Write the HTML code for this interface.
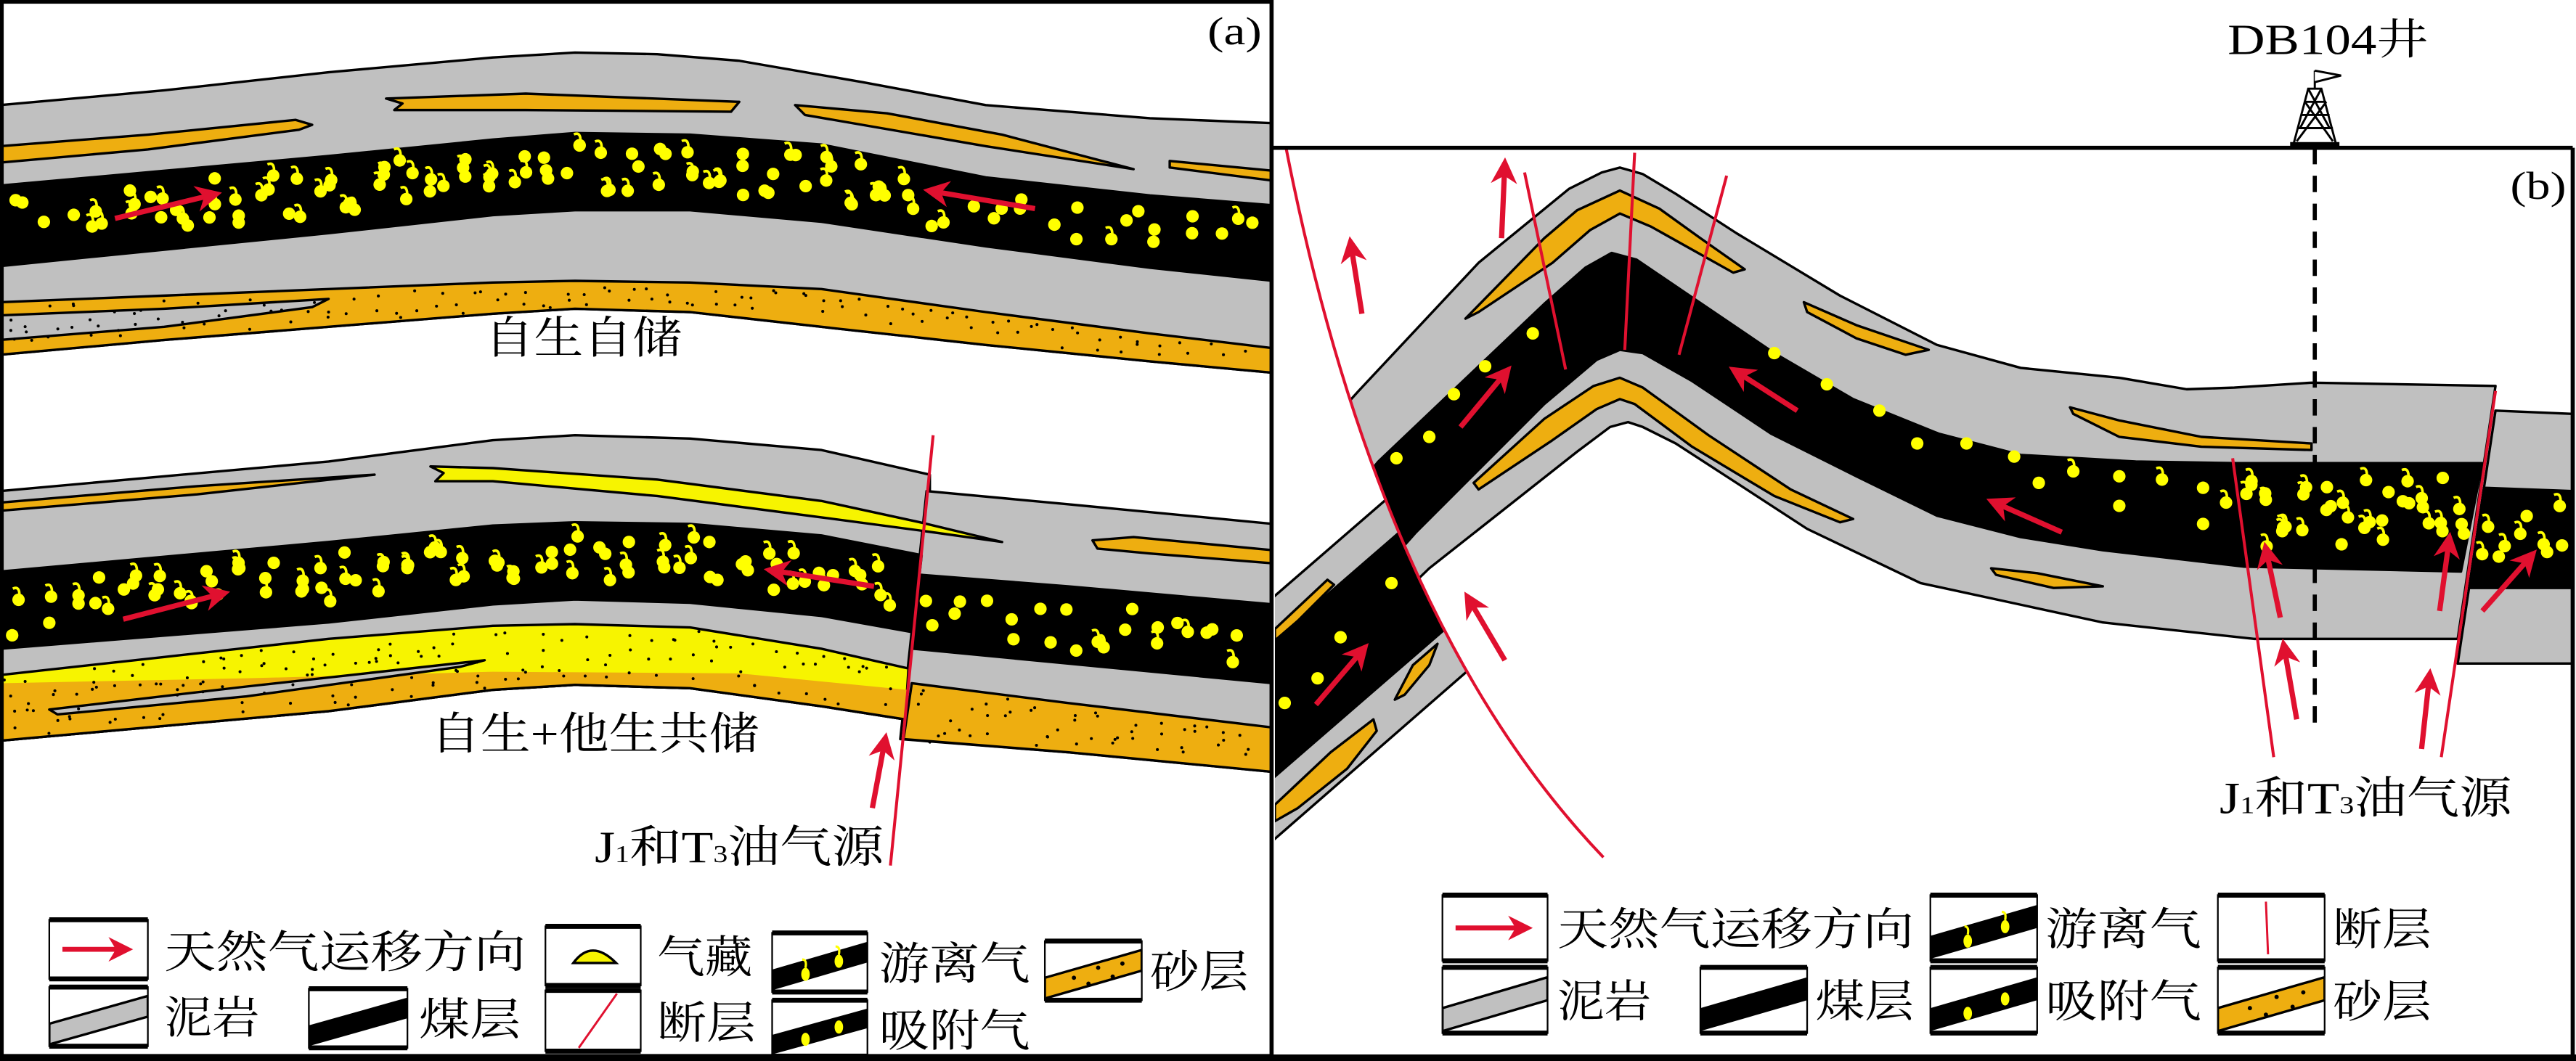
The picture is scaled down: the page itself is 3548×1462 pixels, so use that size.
<!DOCTYPE html>
<html><head><meta charset="utf-8">
<style>
html,body{margin:0;padding:0;background:#fff;}
svg{display:block;}
text{font-family:"Liberation Serif","Noto Serif CJK SC",serif;fill:#000;}
</style></head>
<body>
<svg id="s" xmlns="http://www.w3.org/2000/svg" width="3548" height="1462" viewBox="0 0 1568 646" preserveAspectRatio="none">
<defs>
<marker id="ah" viewBox="0 0 10 10" refX="8" refY="5" markerWidth="5" markerHeight="5" orient="auto" markerUnits="strokeWidth">
<path d="M0,0 L10,5 L0,10 L3,5 z" fill="#e0102f"/></marker>
<clipPath id="ca"><rect x="0" y="0" width="773" height="646"/></clipPath>
<clipPath id="cb"><rect x="776" y="90" width="790" height="553"/></clipPath>
<clipPath id="hang"><path d="M783,91 Q840,380 976,522 L1568,646 L1568,90 Z"/></clipPath>
<clipPath id="foot"><path d="M783,91 Q840,380 976,522 L776,646 L776,91 Z"/></clipPath>
</defs>
<rect width="1568" height="646" fill="#fff"/>

<g clip-path="url(#ca)" stroke="#000" stroke-width="1.5" stroke-linejoin="round">
<polygon fill="#c0c0c0" points="0,64 100,55 200,44 300,35 350,32 400,33 450,37 525,50 600,64 700,72 775,75 775,227 700,220 600,210 500,199 420,190 350,188 300,191 200,199 100,207 0,216"/>
<polygon fill="#eeae10" points="0,184 100,180 200,176 300,172 350,171 420,172 500,176 600,190 700,203 775,212 775,227 700,220 600,210 500,199 420,190 350,188 300,191 200,199 100,207 0,216"/>
<polygon fill="#c0c0c0" points="0,192 100,188 200,182 190,187 100,199 0,207"/>
<polygon fill="#000" points="0,113 100,104 200,95 300,85 350,81 420,82 500,88 600,108 700,119 775,125 775,171 700,163 600,150 500,135 420,128 350,128 300,131 200,142 100,152 0,162"/>
<polygon fill="#eeae10" points="0,89 90,82 180,73 190,76 182,79 90,91 0,99"/>
<polygon fill="#eeae10" points="235,60 320,57 450,62 445,68 320,67 240,67 245,63"/>
<polygon fill="#eeae10" points="484,64 540,69 610,82 690,103 600,89 490,70"/>
<polygon fill="#eeae10" points="712,98 775,104 775,110 712,102"/>
<polygon fill="#c0c0c0" points="0,299 100,290 200,281 300,268 350,265 420,267 500,274 566,289 566,452 551,438 500,430 420,419 350,417 300,420 200,433 100,442 0,451"/>
<polygon fill="#c0c0c0" points="564,299 650,307 775,319 775,470 650,458 548,450"/>
<polygon fill="#f7f400" points="0,411 100,400 200,389 300,381 350,380 420,382 500,395 553,407 551,438 500,430 420,419 350,417 300,420 200,433 100,442 0,451"/>
<polygon fill="#eeae10" stroke="none" points="0,416 150,413 300,409 450,410 552,420 551,438 500,430 420,419 350,417 300,420 200,433 100,442 0,451"/>
<polyline fill="none" points="0,451 100,442 200,433 300,420 350,417 420,419 500,430 551,438"/>
<polygon fill="#eeae10" points="555,416 650,428 775,443 775,470 650,458 550,450"/>
<polygon fill="#c0c0c0" points="30,432 150,418 295,402 280,406 150,424 35,435"/>
<polygon fill="#000" points="0,348 100,339 200,330 300,320 350,318 420,319 500,326 561,338 556,385 500,375 420,367 350,365 300,368 200,379 100,387 0,395"/>
<polygon fill="#000" points="561,350 650,357 775,368 775,416 650,404 556,395"/>
<polygon fill="#eeae10" points="0,306 120,296 228,289 120,301 0,311"/>
<polygon fill="#f7f400" points="262,284 300,285 400,292 500,305 560,318 610,330 560,323 500,315 400,302 300,293 265,293 270,288"/>
<polygon fill="#eeae10" points="665,329 690,327 775,335 775,343 700,337 668,334"/>
</g>
<g id="dotsA"></g>
<line x1="568" y1="265" x2="542" y2="527" stroke="#e0102f" stroke-width="1.8"/>

<g stroke="#e0102f" stroke-width="3.2" marker-end="url(#ah)">
<line x1="70" y1="133" x2="132" y2="118"/>
<line x1="630" y1="127" x2="565" y2="116"/>
<line x1="75" y1="377" x2="137" y2="361"/>
<line x1="532" y1="357" x2="468" y2="347"/>
<line x1="531" y1="492" x2="539" y2="449"/>
</g>

<text x="295" y="215" font-size="27" textLength="120" lengthAdjust="spacingAndGlyphs">自生自储</text>
<text x="262" y="456" font-size="27" textLength="200" lengthAdjust="spacingAndGlyphs">自生+他生共储</text>
<text x="362" y="525" font-size="27" textLength="176" lengthAdjust="spacingAndGlyphs">J<tspan font-size="15">1</tspan>和T<tspan font-size="15">3</tspan>油气源</text>
<text x="735" y="27" font-size="24" textLength="33" lengthAdjust="spacingAndGlyphs">(a)</text>

<g clip-path="url(#cb)" stroke="#000" stroke-width="1.5" stroke-linejoin="round">
<g clip-path="url(#hang)">
<polygon fill="#c0c0c0" points="780,290 827,238 900,160 955,115 975,105 986,102 1000,106 1020,118 1057,142 1120,180 1179,210 1230,224 1290,230 1331,237 1360,236 1407,233 1519,235 1496,389 1420,389 1372,389 1280,379 1169,355 1100,322 1057,294 1020,270 1000,260 991,257 980,260 960,275 870,346 840,375"/>
<polygon fill="#000" points="790,340 839,281 940,185 965,163 981,154 996,158 1027,179 1080,215 1128,243 1180,264 1230,277 1300,281 1361,282 1511,282 1498,348 1366,345 1280,335 1230,327 1179,314 1130,290 1078,264 1030,232 1000,215 986,213 972,219 940,246 862,324 830,360"/>
<polygon fill="#eeae10" points="892,194 940,145 960,128 986,116 1010,127 1035,145 1062,164 1055,166 1030,152 1005,138 986,130 968,140 945,160 900,190"/>
<polygon fill="#eeae10" points="1098,184 1130,198 1174,213 1160,216 1130,206 1100,190"/>
<polygon fill="#eeae10" points="1260,248 1290,256 1340,266 1407,270 1407,274 1340,272 1290,266 1262,252"/>
<polygon fill="#eeae10" points="897,294 940,255 970,235 986,230 1000,236 1040,265 1090,298 1128,316 1120,318 1080,302 1030,272 995,246 986,243 972,249 945,268 900,298"/>
<polygon fill="#eeae10" points="1212,346 1240,349 1280,357 1250,358 1215,350"/>
</g>
<polygon fill="#c0c0c0" points="1519,250 1566,252 1566,404 1496,404"/>
<polygon fill="#000" points="1512,297 1566,299 1566,358 1503,358"/>
<g clip-path="url(#foot)">
<polygon fill="#c0c0c0" points="770,368 950,212 950,359 770,516"/>
<polygon fill="#000" points="770,395 950,239 950,322 770,478"/>
<polygon fill="#eeae10" points="808,353 812,356 790,378 776,390 776,383"/>
<polygon fill="#eeae10" points="875,392 870,405 855,423 849,426 860,405"/>
<polygon fill="#eeae10" points="836,438 838,445 820,468 790,492 776,500 776,490 810,458"/>
</g>
</g>
<g id="dotsB"></g>

<g stroke="#e0102f" stroke-width="1.8" fill="none">
<path d="M783,91 Q840,380 976,522"/>
<line x1="928" y1="105" x2="953" y2="225"/>
<line x1="995" y1="93" x2="989" y2="213"/>
<line x1="1051" y1="107" x2="1022" y2="216"/>
<line x1="1359" y1="279" x2="1384" y2="461"/>
<line x1="1519" y1="238" x2="1486" y2="461"/>
</g>
<line x1="1409" y1="90" x2="1409" y2="443" stroke="#000" stroke-width="2.5" stroke-dasharray="10,7"/>
<g stroke="#000" stroke-width="1.3" fill="none">
<path d="M1396,88 L1405,54 L1413,54 L1422,88"/>
<path d="M1403,62 L1416,62 M1401,70 L1418,70 M1399,78 L1420,78 M1405,54 L1418,78 M1413,54 L1400,78 M1403,62 L1420,86 M1416,62 L1398,86"/>
<path d="M1409,54 L1409,43"/>
<path d="M1409,43 L1425,46 L1409,50" fill="#fff"/>
<line x1="1394" y1="88" x2="1424" y2="88" stroke-width="3"/>
</g>

<g stroke="#e0102f" stroke-width="3.2" marker-end="url(#ah)">
<line x1="914" y1="145" x2="916" y2="99"/>
<line x1="829" y1="191" x2="822" y2="147"/>
<line x1="889" y1="260" x2="918" y2="225"/>
<line x1="1094" y1="250" x2="1055" y2="225"/>
<line x1="1255" y1="324" x2="1212" y2="305"/>
<line x1="801" y1="429" x2="831" y2="394"/>
<line x1="916" y1="402" x2="893" y2="363"/>
<line x1="1388" y1="376" x2="1379" y2="333"/>
<line x1="1398" y1="438" x2="1390" y2="392"/>
<line x1="1485" y1="372" x2="1491" y2="327"/>
<line x1="1474" y1="456" x2="1479" y2="410"/>
<line x1="1511" y1="372" x2="1542" y2="337"/>
</g>

<text x="1356" y="33" font-size="26" textLength="122" lengthAdjust="spacingAndGlyphs">DB104井</text>
<text x="1528" y="121" font-size="24" textLength="34" lengthAdjust="spacingAndGlyphs">(b)</text>
<text x="1351" y="495" font-size="27" textLength="178" lengthAdjust="spacingAndGlyphs">J<tspan font-size="15">1</tspan>和T<tspan font-size="15">3</tspan>油气源</text>

<g id="legA"></g>
<g stroke="#000" fill="none">
<rect x="1" y="1" width="773" height="642" stroke-width="2.5"/>
<line x1="774" y1="90" x2="1566" y2="90" stroke-width="2.5"/>
<line x1="1566" y1="90" x2="1566" y2="645" stroke-width="2.5"/>
<line x1="0" y1="644" x2="1568" y2="644" stroke-width="4"/>
</g>
</svg>
<script>
(function(){
var seed=11;function rnd(){seed=(seed*16807)%2147483647;return seed/2147483647;}
function interp(p,x){for(var i=0;i<p.length-1;i++){if(x>=p[i][0]&&x<=p[i+1][0]){var t=(x-p[i][0])/(p[i+1][0]-p[i][0]);return p[i][1]+t*(p[i+1][1]-p[i][1]);}}return x<p[0][0]?p[0][1]:p[p.length-1][1];}
function pts(s){return s.trim().split(/\s+/).map(function(q){return q.split(',').map(Number);});}
var out='';
function dot(x,y,hook,r){r=r||3.8;out+='<circle cx="'+x.toFixed(1)+'" cy="'+y.toFixed(1)+'" r="'+r+'" fill="#ffff00"/>';if(hook)out+='<path d="M'+(x-3.5).toFixed(1)+','+(y-r-3).toFixed(1)+' q4.5,-2 4,'+(r+1.5)+'" fill="none" stroke="#ffff00" stroke-width="1.6"/>';}
function band(top,bot,x0,x1,step,fn){for(var x=x0;x<=x1;x+=step){var t=interp(top,x),b=interp(bot,x);fn(x,t,b);}}
function sandDots(top,bot,x0,x1){for(var x=x0;x<=x1;x+=13){var t=interp(top,x),b=interp(bot,x);var n=Math.max(1,Math.round((b-t)/11));for(var k=0;k<n;k++){var y=t+2+rnd()*(b-t-4);out+='<circle cx="'+(x+rnd()*8).toFixed(1)+'" cy="'+y.toFixed(1)+'" r="0.9" fill="#000"/>';}}}
var C1=pts("0,113 100,104 200,95 300,85 350,81 420,82 500,88 600,108 700,119 775,125"),C2=pts("0,162 100,152 200,142 300,131 350,128 420,128 500,135 600,150 700,163 775,171");
function coalFill(top,bot,x0,x1,d0,d1){band(top,bot,x0,x1,17,function(x,t,b){var dense=x>d0&&x<d1;var n=dense?3:2;for(var k=0;k<n;k++){var f=dense?0.15+rnd()*0.6:0.2+rnd()*0.65;var xx=x+rnd()*10-5;if(xx<4||xx>768)continue;if(!dense&&k==1&&rnd()<0.3)continue;dot(xx,t+f*(b-t),dense?rnd()<0.6:rnd()<0.2);}});}
coalFill(C1,C2,10,765,55,560);
var D1=pts("0,348 100,339 200,330 300,320 350,318 420,319 500,326 561,338"),D2=pts("0,395 100,387 200,379 300,368 350,365 420,367 500,375 556,385");
coalFill(D1,D2,10,548,55,548);
var E1=pts("561,350 650,357 775,368"),E2=pts("556,395 650,404 775,416");
coalFill(E1,E2,568,765,0,0);
sandDots(pts("0,184 100,180 200,176 300,172 350,171 420,172 500,176 600,190 700,203 775,212"),pts("0,216 100,207 200,199 300,191 350,188 420,190 500,199 600,210 700,220 775,227"),2,765);
sandDots(pts("0,411 100,400 200,389 300,381 350,380 420,382 500,395 553,407"),pts("0,451 100,442 200,433 300,420 350,417 420,419 500,430 551,438"),2,545);
sandDots(pts("555,416 650,428 775,443"),pts("550,450 650,458 775,470"),558,765);
document.getElementById('dotsA').innerHTML=out;
out='';
[[933,203],[904,223],[885,240],[870,266],[850,279],[1080,215],[1112,234],[1144,250],[1167,270],[1197,270],[1226,278],[1241,294],[1290,290],[1290,308],[1341,297],[1341,319],[847,355],[816,388],[802,413],[782,428]].forEach(function(p){dot(p[0],p[1],false);});
[[1262,287],[1316,292],[1355,306]].forEach(function(p){dot(p[0],p[1],true);});
for(var x=1368;x<=1560;x+=12){var t=x>1508?300:285,b=x>1508?350:340;var n=x>1508?2:3;for(var k=0;k<n;k++){dot(x+rnd()*6-3,t+6+rnd()*(b-t-12),rnd()<0.7);}}
document.getElementById('dotsB').innerHTML=out;
var L='';
function box(x,y,w,h,kind){
 var id='c'+Math.round(x)+'_'+Math.round(y);
 L+='<clipPath id="'+id+'"><rect x="'+x+'" y="'+y+'" width="'+w+'" height="'+h+'"/></clipPath>';
 L+='<rect x="'+x+'" y="'+y+'" width="'+w+'" height="'+h+'" fill="#fff" stroke="#000" stroke-width="1"/>';
 var bp=function(){return (x)+','+(y+h*0.62)+' '+(x+w)+','+(y+h*0.15)+' '+(x+w)+','+(y+h*0.5)+' '+x+','+(y+h*0.97);};
 var g='<g clip-path="url(#'+id+')">';
 if(kind=='arrow'){g+='<line x1="'+(x+8)+'" y1="'+(y+h/2)+'" x2="'+(x+w-12)+'" y2="'+(y+h/2)+'" stroke="#e0102f" stroke-width="3" marker-end="url(#ah)"/>';}
 if(kind=='gas'){g+='<path d="M'+(x+17)+','+(y+h*0.62)+' Q'+(x+28)+','+(y+h*0.2)+' '+(x+43)+','+(y+h*0.62)+' Z" fill="#f7f400" stroke="#000" stroke-width="1.5"/>';}
 if(kind=='mud'){g+='<polygon points="'+bp()+'" fill="#c0c0c0" stroke="#000" stroke-width="1.5"/>';}
 if(kind=='coal'){g+='<polygon points="'+bp()+'" fill="#000"/>';}
 if(kind=='free'||kind=='ads'){g+='<polygon points="'+bp()+'" fill="#000"/>';
   var dd=[[x+w*0.35,y+h*0.7],[x+w*0.7,y+h*0.48]];dd.forEach(function(p){g+='<ellipse cx="'+p[0]+'" cy="'+p[1]+'" rx="2.6" ry="4" fill="#ffff00"/>';if(kind=='free')g+='<path d="M'+(p[0]-2)+','+(p[1]-9)+' q3,0 2,5" stroke="#ffff00" stroke-width="1.4" fill="none"/>';});
 }
 if(kind=='sand'){g+='<polygon points="'+bp()+'" fill="#eeae10" stroke="#000" stroke-width="1.5"/>';[[0.3,0.62],[0.55,0.45],[0.7,0.6],[0.45,0.72],[0.8,0.38]].forEach(function(q){g+='<circle cx="'+(x+w*q[0])+'" cy="'+(y+h*q[1])+'" r="1.3" fill="#000"/>';});}
 if(kind=='fault'){g+='<line x1="'+(x+w*0.35)+'" y1="'+(y+h-2)+'" x2="'+(x+w*0.75)+'" y2="'+(y+2)+'" stroke="#e0102f" stroke-width="1.3"/>';}
 if(kind=='faultv'){g+='<line x1="'+(x+w*0.45)+'" y1="'+(y+4)+'" x2="'+(x+w*0.47)+'" y2="'+(y+h-4)+'" stroke="#e0102f" stroke-width="1.3"/>';}
 g+='</g>';L+=g;
 L+='<line x1="'+x+'" y1="'+y+'" x2="'+(x+w)+'" y2="'+y+'" stroke="#000" stroke-width="3"/>';
 L+='<line x1="'+x+'" y1="'+(y+h)+'" x2="'+(x+w)+'" y2="'+(y+h)+'" stroke="#000" stroke-width="3"/>';
}
function tx(x,y,s,tl){L+='<text x="'+x+'" y="'+y+'" font-size="27" textLength="'+tl+'" lengthAdjust="spacingAndGlyphs">'+s+'</text>';}
box(30,560,60,36,'arrow');tx(100,589,'天然气运移方向',220);
box(332,564,58,36,'gas');tx(400,592,'气藏',58);
box(470,568,58,36,'free');tx(535,596,'游离气',92);
box(636,573,59,36,'sand');tx(700,601,'砂层',60);
box(30,601,60,36,'mud');tx(100,629,'泥岩',58);
box(188,602,60,36,'coal');tx(255,630,'煤层',62);
box(332,603,58,37,'fault');tx(400,632,'断层',60);
box(470,609,58,34,'ads');tx(535,637,'吸附气',92);
box(878,545,64,40,'arrow');tx(948,575,'天然气运移方向',217);
box(1175,545,65,40,'free');tx(1245,575,'游离气',95);
box(1350,545,65,40,'faultv');tx(1420,575,'断层',60);
box(878,589,64,40,'mud');tx(948,619,'泥岩',57);
box(1035,589,65,40,'coal');tx(1105,619,'煤层',60);
box(1175,589,65,40,'ads');tx(1245,619,'吸附气',95);
box(1350,589,65,40,'sand');tx(1420,619,'砂层',60);
document.getElementById('legA').innerHTML=L;
})();
</script>
</body></html>
